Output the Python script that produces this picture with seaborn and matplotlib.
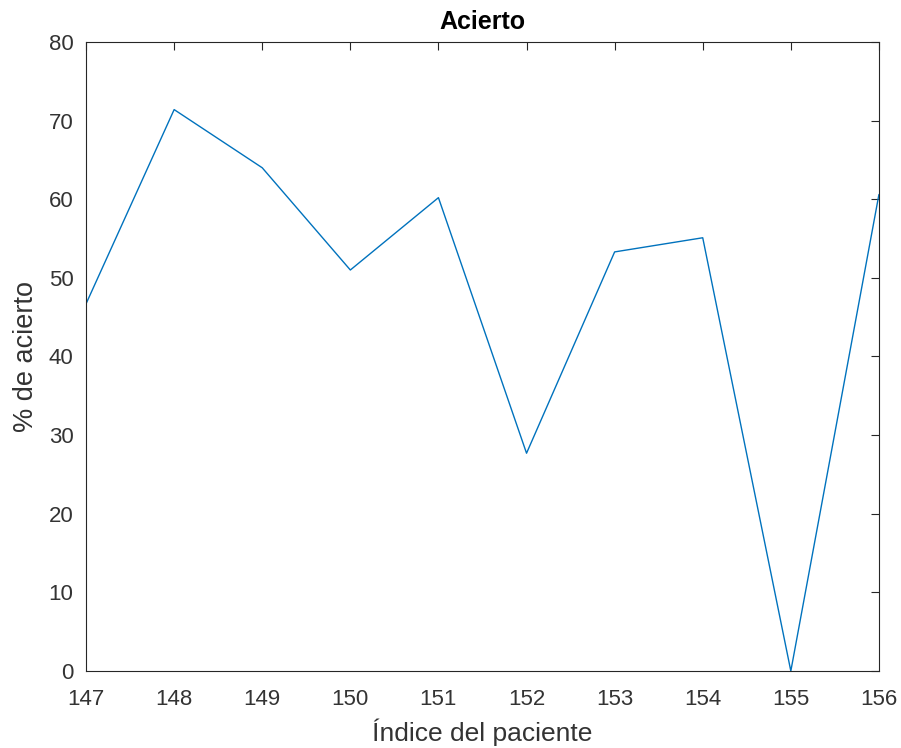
import pandas as pd
import seaborn as sns
import matplotlib.pyplot as plt

# Patient index and hit rate (%)
pacientes = [147, 148, 149, 150, 151, 152, 153, 154, 155, 156]
acierto = [46.7, 71.4, 64.0, 51.0, 60.2, 27.7, 53.3, 55.1, 0.0, 60.6]

df = pd.DataFrame({"paciente": pacientes, "acierto": acierto})

sns.set_style("white")
plt.rcParams['font.family'] = ['Liberation Sans', 'DejaVu Sans']

fig = plt.figure(figsize=(9.01, 7.48), dpi=100)
ax = fig.add_axes([0.0955, 0.1029, 0.88, 0.841])

sns.lineplot(data=df, x="paciente", y="acierto", ax=ax, color="#0072BD", linewidth=1.0)

ax.set_xlim(147, 156)
ax.set_ylim(0, 80)
ax.set_xticks(pacientes)
ax.set_yticks(range(0, 81, 10))

for s in ax.spines.values():
    s.set_visible(True)
    s.set_color("#262626")
    s.set_linewidth(0.8)
ax.tick_params(direction="in", top=True, right=True, length=6, width=0.8,
               color="#262626", labelsize=16, labelcolor="#333333")
ax.tick_params(axis="y", pad=9)
ax.tick_params(axis="x", pad=13)

ax.set_xlabel("Índice del paciente", fontsize=19, color="#333333", labelpad=6)
ax.set_ylabel("% de acierto", fontsize=19.5, color="#333333", labelpad=7)
ax.set_title("Acierto", fontsize=18, fontweight="bold", color="black", pad=9)

fig.savefig("out.png", dpi=100)
